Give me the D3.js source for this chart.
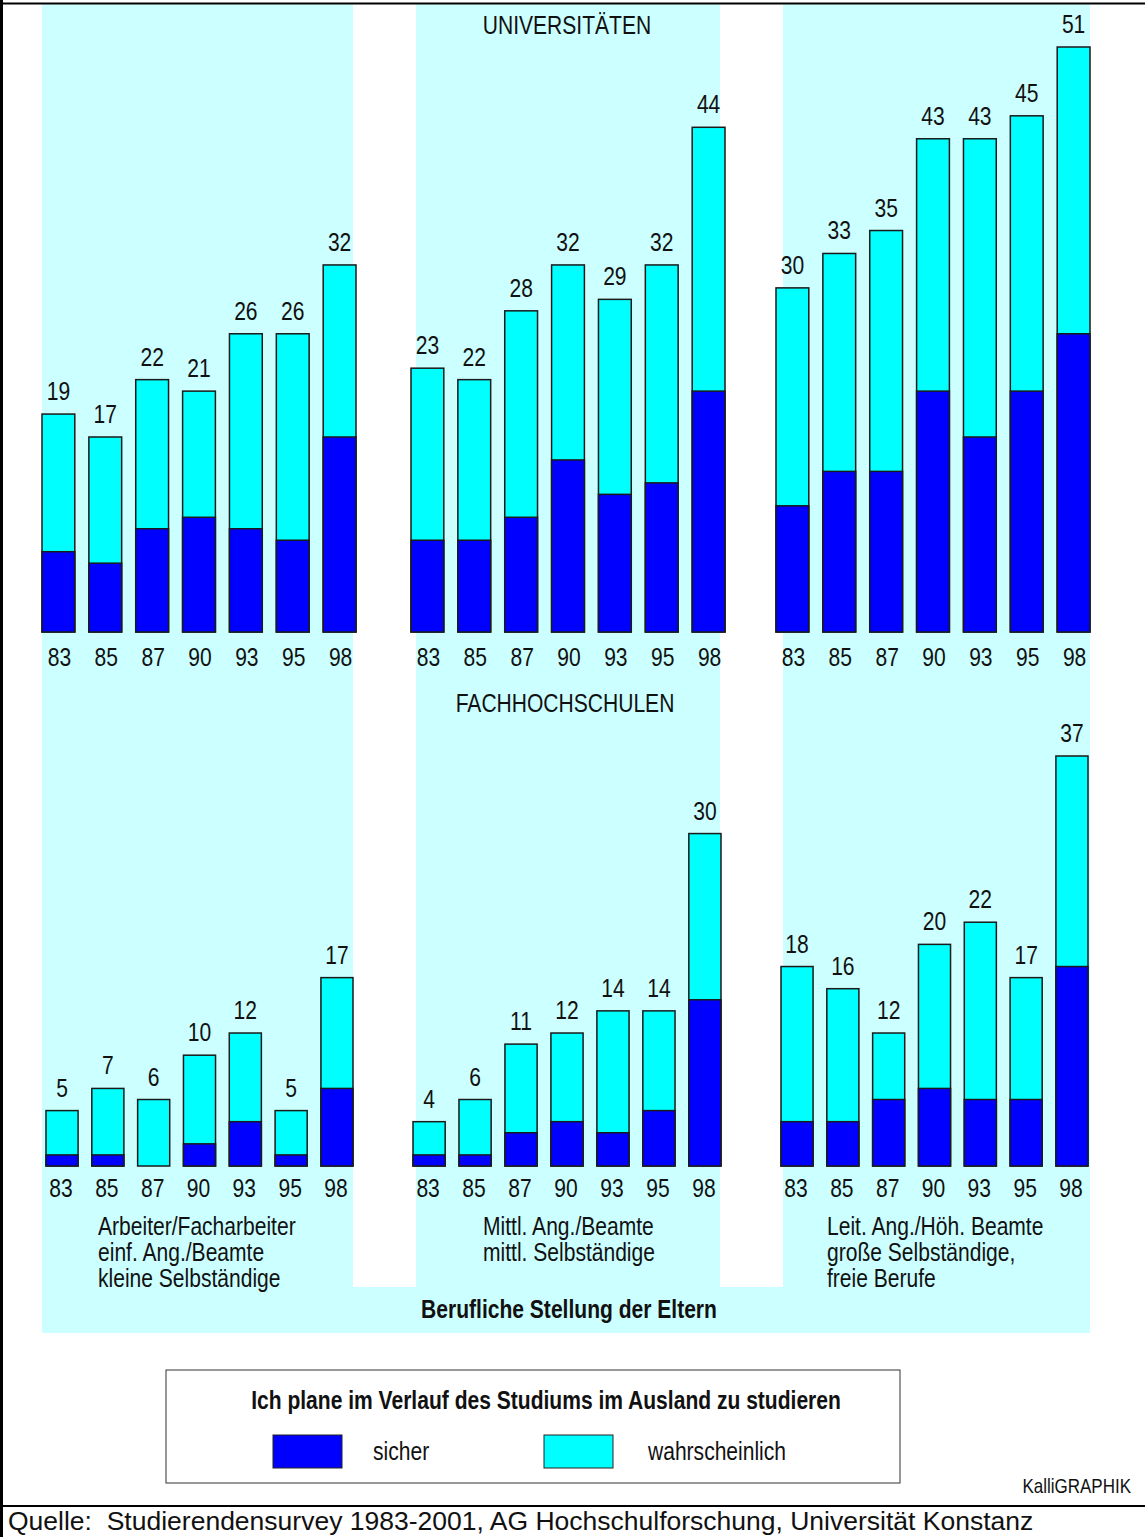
<!DOCTYPE html>
<html>
<head>
<meta charset="utf-8">
<script src="https://cdn.jsdelivr.net/npm/d3@7"></script>
<style>
body { margin: 0; background: #fff; }
</style>
</head>
<body>
<script>
// Auslandsstudium nach beruflicher Stellung der Eltern

var years = ["83", "85", "87", "90", "93", "95", "98"];
var groups = [
  ["Arbeiter/Facharbeiter", "einf. Ang./Beamte", "kleine Selbständige"],
  ["Mittl. Ang./Beamte", "mittl. Selbständige"],
  ["Leit. Ang./Höh. Beamte", "große Selbständige,", "freie Berufe"]
];

// Universitäten: total (sicher + wahrscheinlich) and sicher
var uniTotal = [
  [19, 17, 22, 21, 26, 26, 32],
  [23, 22, 28, 32, 29, 32, 44],
  [30, 33, 35, 43, 43, 45, 51]
];
var uniSicher = [
  [7, 6, 9, 10, 9, 8, 17],
  [8, 8, 10, 15, 12, 13, 21],
  [11, 14, 14, 21, 17, 21, 26]
];

// Fachhochschulen
var fhTotal = [
  [5, 7, 6, 10, 12, 5, 17],
  [4, 6, 11, 12, 14, 14, 30],
  [18, 16, 12, 20, 22, 17, 37]
];
var fhSicher = [
  [1, 1, 0, 2, 4, 1, 7],
  [1, 1, 3, 4, 3, 5, 15],
  [4, 4, 6, 7, 6, 6, 18]
];

var width = 1145;
var height = 1537;
var font = "'Liberation Sans', Arial, sans-serif";
var dark = "#0000ff";
var light = "#00ffff";
var panel = "#ccffff";

var svg = d3.select("body").append("svg")
    .attr("width", width)
    .attr("height", height);

// condensed look: Arial squeezed horizontally
function label(parent, str, x, y, opts) {
  opts = opts || {};
  var t = parent.append("text")
      .attr("transform", "translate(" + x + "," + y + ") scale(" + (opts.sx || 0.81) + ",1)")
      .attr("text-anchor", opts.anchor || "start")
      .style("font-family", font)
      .style("font-size", (opts.size || 26) + "px")
      .style("font-weight", opts.bold ? "bold" : "normal")
      .attr("fill", "#111");
  if (str !== null) t.text(str);
  return t;
}

// panels
var panelX = [[42, 353], [416, 720], [783, 1090]];
panelX.forEach(function(p) {
  svg.append("rect")
      .attr("x", p[0])
      .attr("y", 4)
      .attr("width", p[1] - p[0])
      .attr("height", 1287 - 4)
      .attr("fill", panel);
});
svg.append("rect")
    .attr("x", 42)
    .attr("y", 1287)
    .attr("width", 1090 - 42)
    .attr("height", 1333 - 1287)
    .attr("fill", panel);

// frame
svg.append("line").attr("x1", 1.5).attr("y1", 0).attr("x2", 1.5).attr("y2", height)
    .attr("stroke", "#000").attr("stroke-width", 3);
svg.append("line").attr("x1", 0).attr("y1", 3.5).attr("x2", width).attr("y2", 3.5)
    .attr("stroke", "#000").attr("stroke-width", 2);
svg.append("line").attr("x1", 0).attr("y1", 1506).attr("x2", width).attr("y2", 1506)
    .attr("stroke", "#000").attr("stroke-width", 2);

function drawSection(total, sicher, yTop, yBase, xRanges, yearY, yearShift) {
  var y = d3.scaleLinear()
      .domain([0, d3.max(total, function(g) { return d3.max(g); })])
      .range([yBase, yTop]);

  total.forEach(function(vals, gi) {
    var x = d3.scaleBand()
        .domain(years)
        .range(xRanges[gi])
        .paddingInner(0.3)
        .paddingOuter(0);

    var g = svg.append("g");

    var rows = years.map(function(yr, i) {
      return { year: yr, total: vals[i], sicher: sicher[gi][i] };
    });

    g.selectAll(".tot").data(rows).enter().append("rect")
        .attr("x", function(d) { return x(d.year); })
        .attr("y", function(d) { return y(d.total); })
        .attr("width", x.bandwidth())
        .attr("height", function(d) { return y(0) - y(d.total); })
        .attr("fill", light)
        .attr("stroke", "#1a1a1a")
        .attr("stroke-width", 1.5);

    g.selectAll(".sic").data(rows.filter(function(d) { return d.sicher > 0; })).enter().append("rect")
        .attr("x", function(d) { return x(d.year); })
        .attr("y", function(d) { return y(d.sicher); })
        .attr("width", x.bandwidth())
        .attr("height", function(d) { return y(0) - y(d.sicher); })
        .attr("fill", dark)
        .attr("stroke", "#1a1a1a")
        .attr("stroke-width", 1.5);

    rows.forEach(function(d) {
      var cx = x(d.year) + x.bandwidth() / 2;
      label(g, d.total, cx, y(d.total) - 14, { anchor: "middle" });
      label(g, d.year, cx + yearShift, yearY, { anchor: "middle" });
    });
  });
}

drawSection(uniTotal, uniSicher, 47, 632, [[42, 356], [411, 725], [776, 1090]], 666, 1);
drawSection(fhTotal, fhSicher, 756, 1166, [[46, 353], [413, 721], [781, 1088]], 1197, -1);

// section titles
label(svg, "UNIVERSITÄTEN", 567, 34, { anchor: "middle" });
label(svg, "FACHHOCHSCHULEN", 565, 712, { anchor: "middle" });

// group labels
var groupLabelX = [98, 483, 827];
groups.forEach(function(lines, gi) {
  var t = label(svg, null, groupLabelX[gi], 1235);
  lines.forEach(function(l, li) {
    t.append("tspan")
        .attr("x", 0)
        .attr("dy", li === 0 ? 0 : 26)
        .text(l);
  });
});

label(svg, "Berufliche Stellung der Eltern", 569, 1318, { anchor: "middle", bold: true });

// legend
svg.append("rect")
    .attr("x", 166)
    .attr("y", 1370)
    .attr("width", 900 - 166)
    .attr("height", 1483 - 1370)
    .attr("fill", "#fff")
    .attr("stroke", "#333")
    .attr("stroke-width", 1);

label(svg, "Ich plane im Verlauf des Studiums im Ausland zu studieren", 546, 1409,
      { anchor: "middle", bold: true });

var legendItems = [
  { label: "sicher", color: dark, x: 273, tx: 373 },
  { label: "wahrscheinlich", color: light, x: 544, tx: 648 }
];
legendItems.forEach(function(d) {
  svg.append("rect")
      .attr("x", d.x)
      .attr("y", 1435)
      .attr("width", 69)
      .attr("height", 33)
      .attr("fill", d.color)
      .attr("stroke", "#222")
      .attr("stroke-width", 1);
  label(svg, d.label, d.tx, 1460);
});

label(svg, "KalliGRAPHIK", 1131, 1493, { anchor: "end", size: 20, sx: 0.85 });

svg.append("text")
    .text("Quelle:  Studierendensurvey 1983-2001, AG Hochschulforschung, Universität Konstanz")
    .attr("x", 8)
    .attr("y", 1530)
    .attr("xml:space", "preserve")
    .style("white-space", "pre")
    .style("font-family", font)
    .style("font-size", "26.5px")
    .attr("fill", "#111");
</script>
</body>
</html>
